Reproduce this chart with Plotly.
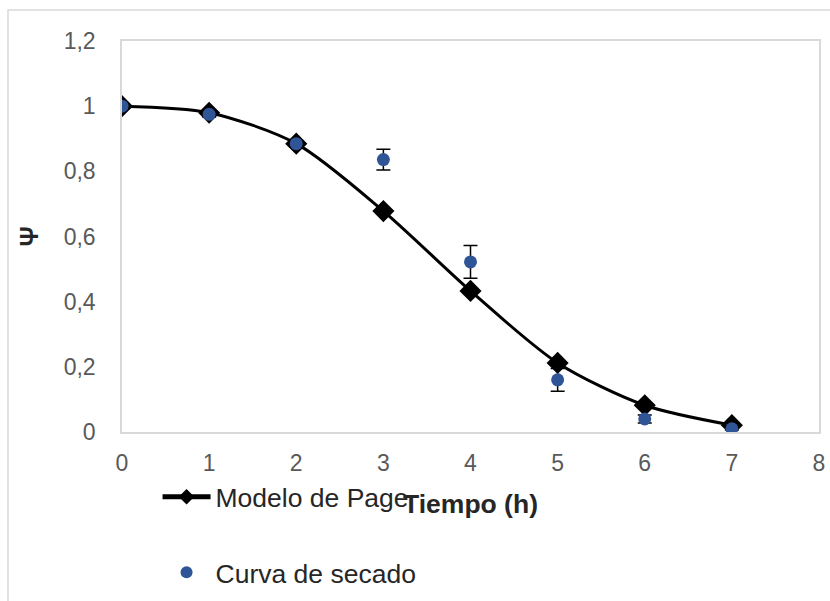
import plotly.graph_objects as go

# Drying time (h)
tiempo = [0, 1, 2, 3, 4, 5, 6, 7]
# Page model prediction of moisture ratio
psi_page = [1.0, 0.98, 0.885, 0.678, 0.433, 0.212, 0.082, 0.021]
# Experimental drying curve and its standard deviation
psi_exp = [1.0, 0.975, 0.885, 0.836, 0.522, 0.16, 0.04, 0.01]
psi_err = [0.0, 0.008, 0.008, 0.032, 0.05, 0.035, 0.012, 0.004]

x_ticks = [0, 1, 2, 3, 4, 5, 6, 7, 8]
y_ticks = [0, 0.2, 0.4, 0.6, 0.8, 1.0, 1.2]
y_tick_text = ["0", "0,2", "0,4", "0,6", "0,8", "1", "1,2"]

FONT = "Liberation Sans, Arial, sans-serif"
GRID = "#d9d9d9"
TICK_COLOR = "#595959"

fig = go.Figure()

fig.add_trace(go.Scatter(
    x=tiempo, y=psi_page,
    mode="lines+markers",
    name="Modelo de Page",
    line=dict(color="black", width=3, shape="spline", smoothing=0.8),
    marker=dict(symbol="diamond", size=17, color="black"),
    legendgroup="a",
))

fig.add_trace(go.Scatter(
    x=tiempo, y=psi_exp,
    mode="markers",
    name="Curva de secado",
    marker=dict(symbol="circle", size=13, color="#2F5597"),
    error_y=dict(type="data", array=psi_err, visible=True,
                 color="black", thickness=1.5, width=7),
    legendgroup="b",
))

fig.update_layout(
    width=830, height=601,
    margin=dict(l=122, r=11, t=41, b=169, autoexpand=False),
    paper_bgcolor="white",
    plot_bgcolor="white",
    font=dict(family=FONT, size=23, color=TICK_COLOR),
    showlegend=True,
    legend=dict(
        x=0.051, y=-0.105, xanchor="left", yanchor="top",
        font=dict(family=FONT, size=26.5, color="#262626"),
        tracegroupgap=38,
        itemwidth=48,
        itemsizing="constant",
        bgcolor="rgba(0,0,0,0)",
    ),
    xaxis=dict(
        range=[0, 8],
        tickmode="array", tickvals=x_ticks,
        showgrid=False, zeroline=False,
        showline=True, linecolor=GRID, linewidth=1.5, mirror=True,
        ticks="", ticklabelstandoff=10,
        tickfont=dict(family=FONT, size=23, color=TICK_COLOR),
        title=dict(text="<b>Tiempo (h)</b>", standoff=19,
                   font=dict(family=FONT, size=26.5, color="#262626")),
    ),
    yaxis=dict(
        range=[0, 1.2],
        tickmode="array", tickvals=y_ticks, ticktext=y_tick_text,
        showgrid=False, zeroline=False,
        showline=True, linecolor=GRID, linewidth=1.5, mirror=True,
        ticks="", ticklabelstandoff=20,
        tickfont=dict(family=FONT, size=23, color=TICK_COLOR),
        title=dict(text="<b>Ψ</b>", standoff=18,
                   font=dict(family=FONT, size=25, color="#262626")),
    ),
)

# Outer chart frame
fig.add_shape(type="rect", xref="paper", yref="paper",
              x0=-0.1636, y0=-0.6, x1=1.05, y1=1.0793,
              line=dict(color=GRID, width=1.5), fillcolor="rgba(0,0,0,0)",
              layer="below")

fig.write_html("out.html")
